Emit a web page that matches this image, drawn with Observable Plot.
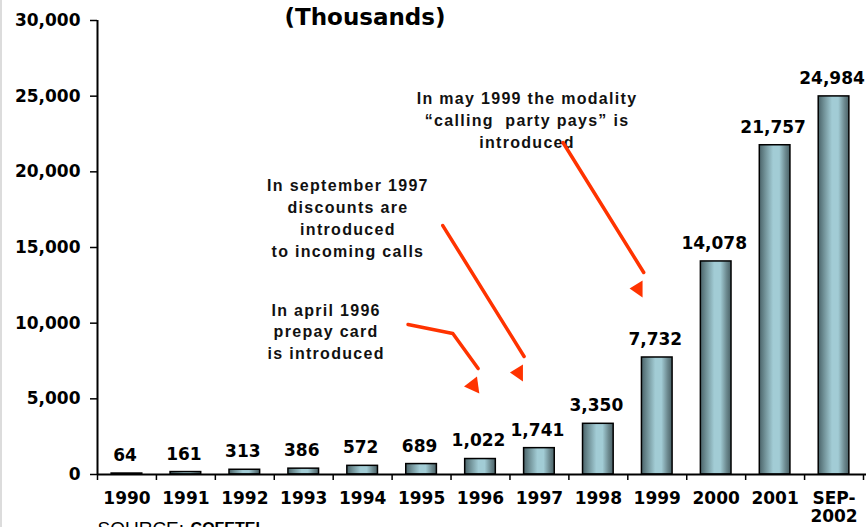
<!DOCTYPE html>
<html><head><meta charset="utf-8">
<script src="https://cdn.jsdelivr.net/npm/d3@7"></script>
<script src="https://cdn.jsdelivr.net/npm/@observablehq/plot@0.6"></script>
<style>
html,body{margin:0;padding:0;background:#fff;overflow:hidden;}
#edge{position:absolute;left:0;top:0;width:2px;height:527px;background:#dcdcdc;}
</style></head><body><div id="chart"></div><div id="edge"></div>
<script>
// ---- data ----
const categories = ["1990","1991","1992","1993","1994","1995","1996","1997","1998","1999","2000","2001","SEP-\n2002"];
const subscribers = [64,161,313,386,572,689,1022,1741,3350,7732,14078,21757,24984];
const yTicks = [0,5000,10000,15000,20000,25000,30000];
const titleText = "(Thousands)";
const sourceLabel = "SOURCE:";
const sourceName = "COFETEL";

// annotations (x in category-index units, y in thousands)
const noteTexts = [
  "In may 1999 the modality\n\u201ccalling  party pays\u201d is\nintroduced",
  "In september 1997\ndiscounts are\nintroduced\nto incoming calls",
  "In april 1996\nprepay card\nis introduced"
];
const noteX = [7.29, 4.25, 3.88];
const noteY = [23490, 17020, 9520];

// arrow shafts: [id, x, y]
const arrowShafts = [
  ["c", 7.90, 21940], ["c", 9.27, 13350],
  ["b", 5.86, 16450], ["b", 7.24, 7800],
  ["a", 5.27, 9910], ["a", 6.03, 9320], ["a", 6.46, 7000]
];
// arrow heads (triangles): [id, x, y]
const arrowHeads = [
  ["c", 9.03, 12290], ["c", 9.25, 12820], ["c", 9.25, 11700],
  ["b", 7.00, 6740], ["b", 7.22, 7270], ["b", 7.22, 6150],
  ["a", 6.22, 5815], ["a", 6.44, 6480], ["a", 6.48, 5350]
];

// ---- build ----
const bars = categories.map((c, i) => ({i, label: c, value: subscribers[i]}));
const shafts = arrowShafts.map(([id, x, y]) => ({id, x, y}));
const heads = arrowHeads.map(([id, x, y]) => ({id, x, y}));
const notes = noteTexts.map((t, k) => ({t, x: noteX[k], y: noteY[k]}));
const fmt = d3.format(",");
const AX = "DejaVu Sans";
const NF = "Liberation Sans";
const RED = "#ff3300";

const plot = Plot.plot({
  width: 866, height: 527,
  marginLeft: 97, marginRight: 3, marginTop: 20, marginBottom: 53,
  style: {overflow: "visible", background: "white", color: "black"},
  x: {type: "linear", domain: [0, categories.length], axis: null},
  y: {domain: [0, 30000], axis: null},
  marks: [
    Plot.ruleX(d3.range(categories.length + 1), {y1: 0, y2: 0, insetBottom: -6, stroke: "black", strokeWidth: 1.5}),
    Plot.rectY(bars, {x1: d => d.i + 0.24, x2: d => d.i + 0.76, y1: 0, y2: "value",
      fill: "url(#barGrad)", stroke: "black", strokeWidth: 1.5}),
    Plot.ruleY([0], {stroke: "black", strokeWidth: 2, insetRight: -3}),
    Plot.ruleX([0], {stroke: "black", strokeWidth: 2}),
    Plot.axisY(yTicks, {tickSize: 7, tickPadding: 10, tickFormat: fmt, label: null,
      fontSize: 17, fontWeight: "bold", fontFamily: AX, strokeWidth: 1.5}),
    Plot.text(bars, {x: d => d.i + 0.5, y: "value", text: d => fmt(d.value), dy: -18, dx: -2,
      lineAnchor: "middle", fontSize: 17, fontWeight: "bold", fontFamily: AX}),
    Plot.text(bars, {x: d => d.i + 0.5, y: 0, text: "label", dy: 16, lineAnchor: "top",
      lineHeight: 1.1, fontSize: 17, fontWeight: "bold", fontFamily: AX}),
    Plot.text([titleText], {x: 4.54, y: 30200, text: d => d, lineAnchor: "middle",
      fontSize: 23, fontWeight: "bold", fontFamily: AX}),
    Plot.text(notes, {x: "x", y: "y", text: "t", lineAnchor: "middle", lineHeight: 1.37,
      fontSize: 16, fontWeight: "bold", fontFamily: NF, fill: "#111"}),
    Plot.line(shafts, {x: "x", y: "y", z: "id", stroke: RED, strokeWidth: 3.5}),
    Plot.line(heads, {x: "x", y: "y", z: "id", fill: RED, stroke: "none"}),
    Plot.text([sourceLabel], {x: 0, y: -4000, text: d => d, textAnchor: "start", lineAnchor: "bottom",
      fontSize: 19, fontFamily: NF}),
    Plot.text([sourceName], {x: 1.58, y: -3900, text: d => d, textAnchor: "start", lineAnchor: "bottom",
      fontSize: 16, fontWeight: "bold", fontFamily: NF})
  ]
});

const svg = d3.select(plot);
svg.insert("defs", ":first-child").html(`
  <linearGradient id="barGrad" x1="0" x2="1" y1="0" y2="0">
    <stop offset="0" stop-color="#4a6369"/>
    <stop offset="0.18" stop-color="#6f8f95"/>
    <stop offset="0.45" stop-color="#a2ccd5"/>
    <stop offset="0.65" stop-color="#a2ccd5"/>
    <stop offset="0.85" stop-color="#6d8a90"/>
    <stop offset="1" stop-color="#4a6166"/>
  </linearGradient>`);
// widen the annotation lettering like the original slide text
svg.selectAll("text").filter(function () {
  return this.textContent.startsWith("In ");
}).style("letter-spacing", "1.3px");
document.getElementById("chart").appendChild(plot);
</script></body></html>
